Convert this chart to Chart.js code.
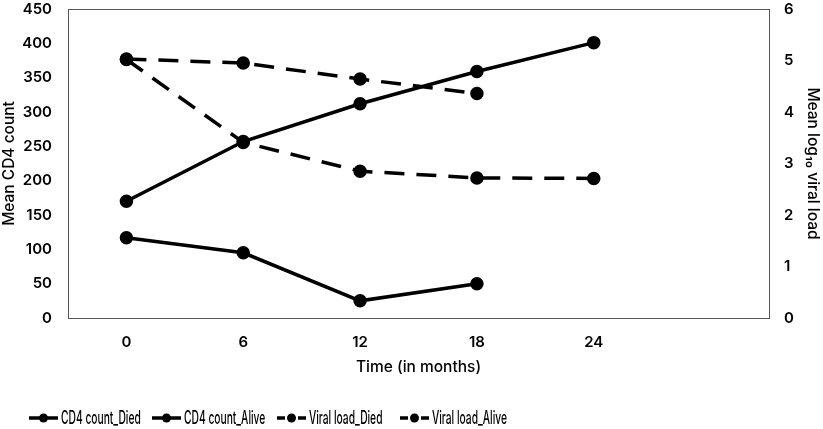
<!DOCTYPE html>
<html>
<head>
<meta charset="utf-8">
<script src="https://cdn.jsdelivr.net/npm/chart.js@4"></script>
<style>
  html, body { margin: 0; padding: 0; background: #fff; }
  #wrap { width: 823px; height: 429px; }
</style>
</head>
<body>
<div id="wrap"><canvas id="chart" width="823" height="429"></canvas></div>
<script>
const months = ["0", "6", "12", "18", "24", ""];

const cd4Died = [117, 95, 25, 50, null, null];
const cd4Alive = [170, 257, 312, 359, 401, null];
const vlDied = [5.03, 4.95, 4.64, 4.36, null, null];
const vlAlive = [5.02, 3.41, 2.85, 2.72, 2.71, null];

const seriesNames = ["CD4 count_Died", "CD4 count_Alive", "Viral load_Died", "Viral load_Alive"];

const family = "Inter, 'Noto Sans', sans-serif";
const tickFont = { family, size: 15, weight: 600 };
const titleFont = { family, size: 15.5, weight: 500 };

const makeSet = (label, data, axis, dashed) => ({
  label,
  data,
  yAxisID: axis,
  borderColor: "#000",
  backgroundColor: "#000",
  borderWidth: 3.5,
  borderDash: dashed ? [20, 12] : [],
  pointRadius: 5,
  pointHoverRadius: 5,
  tension: 0,
  spanGaps: false,
});

// box round the plot area
const frame = {
  id: "frame",
  afterDraw(chart) {
    const { ctx, chartArea: a } = chart;
    ctx.save();
    ctx.strokeStyle = "#555";
    ctx.lineWidth = 1;
    ctx.strokeRect(a.left + 0.5, a.top + 0.5, a.right - a.left, a.bottom - a.top);
    ctx.restore();
  },
};

// legend drawn by hand: line + dot, narrow text, like the original
const legendRow = {
  id: "legendRow",
  afterDraw(chart) {
    const { ctx } = chart;
    const xs = [29, 152, 277, 400];
    const y = 418;
    ctx.save();
    ctx.fillStyle = "#000";
    ctx.strokeStyle = "#000";
    ctx.textBaseline = "middle";
    ctx.font = "500 18px " + family;
    chart.data.datasets.forEach((ds, i) => {
      const x = xs[i];
      ctx.lineWidth = 3.5;
      if (ds.borderDash.length) {
        ctx.beginPath(); ctx.moveTo(x, y); ctx.lineTo(x + 8, y); ctx.stroke();
        ctx.beginPath(); ctx.moveTo(x + 21, y); ctx.lineTo(x + 29, y); ctx.stroke();
      } else {
        ctx.beginPath(); ctx.moveTo(x, y); ctx.lineTo(x + 29, y); ctx.stroke();
      }
      ctx.beginPath(); ctx.arc(x + 14.5, y, 4.5, 0, Math.PI * 2); ctx.fill();
      ctx.save();
      ctx.translate(x + 32, y + 1);
      ctx.scale(0.57, 1);
      ctx.fillText(ds.label, 0, 0);
      ctx.restore();
    });
    ctx.restore();
  },
};

const noPad = (s) => { s.paddingTop = 0; s.paddingBottom = 0; };

new Chart(document.getElementById("chart"), {
  type: "line",
  data: {
    labels: months,
    datasets: [
      makeSet(seriesNames[0], cd4Died, "y", false),
      makeSet(seriesNames[1], cd4Alive, "y", false),
      makeSet(seriesNames[2], vlDied, "y1", true),
      makeSet(seriesNames[3], vlAlive, "y1", true),
    ],
  },
  options: {
    responsive: false,
    animation: false,
    layout: { padding: { top: 9, left: 0, right: 0, bottom: 50 } },
    plugins: { legend: { display: false }, tooltip: { enabled: false } },
    scales: {
      x: {
        offset: true,
        grid: { display: false, drawTicks: false },
        border: { display: false },
        ticks: { color: "#000", font: tickFont, padding: 15, maxRotation: 0 },
        title: { display: true, text: "Time (in months)", color: "#000", font: titleFont, padding: { top: 0, bottom: 2 } },
        afterFit: (s) => { s.height = 61; s.paddingLeft = 0; s.paddingRight = 0; },
      },
      y: {
        position: "left",
        min: 0, max: 450,
        grid: { display: false, drawTicks: false },
        border: { display: false },
        ticks: { stepSize: 50, color: "#000", font: tickFont, padding: 16 },
        title: { display: true, text: "Mean CD4 count", color: "#000", font: titleFont, padding: 0 },
        afterFit: (s) => { s.width = 68; noPad(s); },
      },
      y1: {
        position: "right",
        min: 0, max: 6,
        grid: { display: false, drawTicks: false },
        border: { display: false },
        ticks: { stepSize: 1, color: "#000", font: tickFont, padding: 15 },
        title: { display: true, text: "Mean log\u2081\u2080 viral load", color: "#000", font: titleFont, padding: 1 },
        afterFit: (s) => { s.width = 54; noPad(s); },
      },
    },
  },
  plugins: [frame, legendRow],
});
</script>
</body>
</html>
